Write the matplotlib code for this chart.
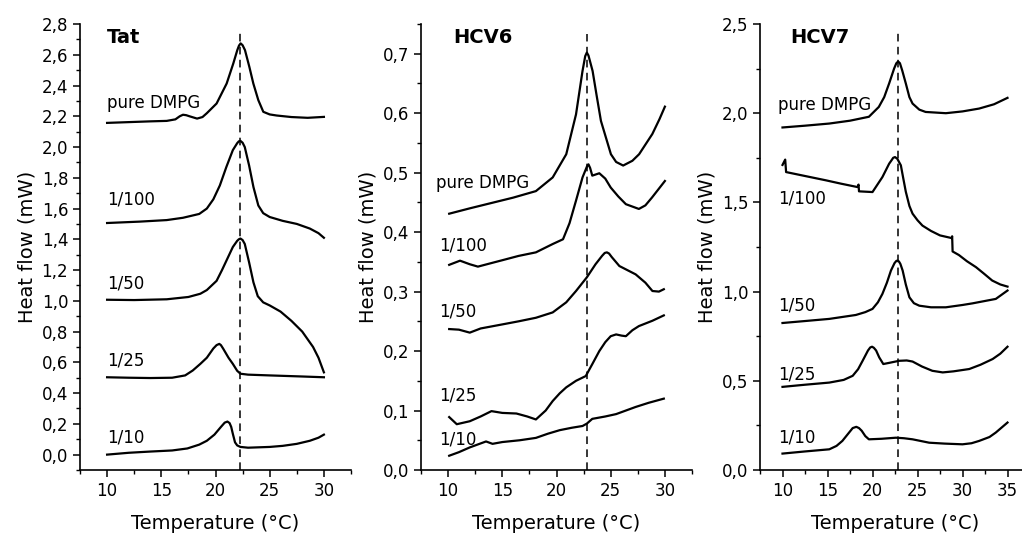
import numpy as np
import matplotlib
matplotlib.use("Agg")
import matplotlib.pyplot as plt
from matplotlib.ticker import MultipleLocator, FuncFormatter

plt.rcParams['font.family'] = ['DejaVu Sans']

# ---- Tat panel ----
tat_dmpg_x = [10, 12, 14, 15.5, 16.3, 16.7, 17.0, 17.3, 17.6, 18.3, 18.8, 19.2, 20.1, 21.03, 21.64, 22.01,
              22.17, 22.32, 22.5, 22.72, 23.12, 23.49, 23.95, 24.41, 25.0, 25.64, 27, 28.5, 30]
tat_dmpg_y = [2.157, 2.162, 2.167, 2.17, 2.18, 2.2, 2.21, 2.207, 2.2, 2.185, 2.195, 2.22, 2.283, 2.413,
              2.543, 2.63, 2.66, 2.674, 2.662, 2.63, 2.522, 2.413, 2.305, 2.229, 2.212, 2.205, 2.195,
              2.19, 2.196]
tat_100_x = [10, 13, 15.5, 17, 18.5, 19.2, 19.8, 20.4, 21.0, 21.6, 22.0, 22.15, 22.3, 22.5, 22.7, 23.1,
             23.5, 23.95, 24.4, 25, 26.2, 27.5, 28.7, 29.5, 30]
tat_100_y = [1.506, 1.515, 1.525, 1.54, 1.565, 1.6, 1.66, 1.75, 1.87, 1.98, 2.025, 2.037, 2.04, 2.028,
             2.0, 1.88, 1.74, 1.62, 1.57, 1.545, 1.52, 1.5, 1.47, 1.44, 1.41]
tat_50_x = [10, 12.5, 15.5, 17.5, 18.6, 19.2, 20.1, 20.6, 21.0, 21.6, 22.0, 22.15, 22.3, 22.5, 22.7, 23.1,
            23.5, 23.9, 24.4, 25, 26, 27, 28, 29, 29.5, 30]
tat_50_y = [1.007, 1.005, 1.01, 1.025, 1.046, 1.07, 1.13, 1.2, 1.26, 1.35, 1.39, 1.40, 1.405, 1.395, 1.37,
            1.25, 1.12, 1.03, 0.99, 0.97, 0.93, 0.87, 0.8, 0.7, 0.63, 0.535]
tat_25_x = [10, 12, 14, 16, 17.2, 17.9, 18.6, 19.2, 19.8, 20.1, 20.35, 20.5, 20.7, 21.2, 21.6, 22.0, 22.3,
            23, 25, 28, 30]
tat_25_y = [0.503, 0.5, 0.498, 0.5, 0.515, 0.547, 0.59, 0.63, 0.69, 0.712, 0.72, 0.712, 0.69, 0.63, 0.59,
            0.545, 0.526, 0.52, 0.515, 0.508, 0.503]
tat_10_x = [10, 12, 14, 16, 17.4, 18.5, 19.2, 19.9, 20.5, 20.85, 21.1, 21.3, 21.45, 21.6, 21.8, 22.0,
            22.3, 23, 25, 26.2, 27.5, 28.7, 29.5, 30]
tat_10_y = [0.0, 0.012, 0.02, 0.027, 0.04, 0.065, 0.09, 0.13, 0.18, 0.208, 0.215, 0.205, 0.18, 0.135,
            0.08, 0.06, 0.05, 0.045, 0.05, 0.057, 0.07, 0.09, 0.11, 0.13]

# ---- HCV6 panel ----
h6_dmpg_x = [10.1, 12, 14, 16, 18.1, 19.65, 20.9, 21.8, 22.4, 22.65, 22.8, 22.95, 23.33, 23.7, 24.1,
             25.02, 25.5, 26.15, 27.0, 27.62, 28.84, 29.5, 30]
h6_dmpg_y = [0.431, 0.44, 0.449, 0.458, 0.469, 0.492, 0.531, 0.598, 0.671, 0.696, 0.702, 0.697, 0.671,
             0.63, 0.587, 0.531, 0.518, 0.512, 0.52, 0.531, 0.565, 0.59, 0.611]
h6_100_x = [10.1, 11.1, 12.0, 12.75, 14, 15.05, 16.5, 18.1, 19.65, 20.6, 21.2, 21.8, 22.4, 22.8, 22.95,
            23.1, 23.3, 23.95, 24.5, 25.0, 25.7, 26.4, 27.6, 28.2, 28.8, 29.4, 30]
h6_100_y = [0.345, 0.352, 0.346, 0.342, 0.348, 0.353, 0.36, 0.366, 0.38, 0.388, 0.415, 0.453, 0.492,
            0.51, 0.514, 0.508, 0.495, 0.499, 0.49, 0.475, 0.46, 0.447, 0.439, 0.445, 0.458, 0.472, 0.486]
h6_50_x = [10.1, 11, 12.0, 13, 15.05, 16.5, 18.1, 19.65, 20.9, 21.8, 22.8, 23.6, 24.2, 24.45, 24.65,
           24.85, 25.1, 25.8, 27.3, 28.2, 28.85, 29.45, 29.9]
h6_50_y = [0.237, 0.236, 0.231, 0.238, 0.245, 0.25, 0.256, 0.265, 0.282, 0.301, 0.324, 0.346, 0.36,
           0.365, 0.366, 0.364, 0.358, 0.343, 0.329, 0.315, 0.301, 0.3, 0.304]
h6_25_x = [10.1, 10.8, 12.0, 13, 14.0, 15, 16.3, 17.3, 18.1, 19.0, 19.65, 20.3, 20.9, 21.8, 22.7, 23.3,
           23.95, 24.5, 25.0, 25.5, 26.0, 26.4, 27.0, 27.6, 28.85, 29.9]
h6_25_y = [0.089, 0.077, 0.082, 0.09, 0.099, 0.096, 0.095, 0.09, 0.085, 0.1, 0.116, 0.129, 0.139, 0.15,
           0.158, 0.178, 0.2, 0.215, 0.225, 0.228, 0.226, 0.225, 0.235, 0.242, 0.251, 0.26]
h6_10_x = [10.1, 11, 12.0, 13.5, 14.1, 15, 16.6, 18.1, 19.2, 20.3, 21.4, 22.4, 22.8, 23.3, 24.5, 25.5,
           26.4, 27.3, 28.5, 29.9]
h6_10_y = [0.024, 0.03, 0.038, 0.048, 0.044, 0.047, 0.05, 0.054, 0.061, 0.067, 0.071, 0.074, 0.078, 0.086,
           0.09, 0.094, 0.1, 0.106, 0.113, 0.12]

# ---- HCV7 panel ----
h7_dmpg_x = [10, 12.5, 15.2, 17.5, 19.6, 20.7, 21.3, 21.85, 22.4, 22.65, 22.85, 23.05, 23.3, 23.7, 24.1,
             24.45, 25.2, 25.9, 28.15, 30, 31.85, 33.5, 35]
h7_dmpg_y = [1.92, 1.93, 1.942, 1.958, 1.98, 2.035, 2.09, 2.167, 2.25, 2.28, 2.29, 2.28, 2.24, 2.167,
             2.09, 2.054, 2.02, 2.007, 2.0, 2.01, 2.026, 2.05, 2.086]
h7_100_x = [10, 10.3, 10.4, 12.5, 14.8, 16.5, 18.33, 18.45, 18.5, 20.0, 21.1, 21.85, 22.1, 22.3, 22.5,
            22.75, 23.15, 23.4, 23.7, 24.1, 24.45, 25.0, 25.55, 26.5, 27.5, 28.8, 28.85, 28.9, 29.6, 30.5,
            31.5, 32.4, 33.3, 34.2, 35]
h7_100_y = [1.71, 1.74, 1.67, 1.648, 1.624, 1.605, 1.586, 1.6, 1.562, 1.558, 1.642, 1.717, 1.735, 1.75,
            1.754, 1.745, 1.708, 1.64, 1.56, 1.48, 1.437, 1.4, 1.37, 1.34, 1.315, 1.30, 1.31, 1.225,
            1.205, 1.17, 1.137, 1.1, 1.062, 1.04, 1.028]
h7_50_x = [10, 12.5, 15.2, 18.15, 19.2, 20, 20.6, 21.1, 21.6, 22.05, 22.45, 22.65, 22.8, 22.95, 23.1,
           23.35, 23.7, 24.1, 24.6, 25.2, 26.5, 28.15, 30, 31.1, 33.7, 35]
h7_50_y = [0.824, 0.835, 0.847, 0.869, 0.885, 0.903, 0.94, 0.987, 1.05, 1.118, 1.16, 1.172, 1.174, 1.168,
           1.155, 1.118, 1.04, 0.968, 0.935, 0.921, 0.912, 0.912, 0.925, 0.934, 0.959, 1.006]
h7_25_x = [10, 12.5, 15.2, 16.8, 17.8, 18.4, 18.9, 19.5, 19.75, 19.95, 20.15, 20.4, 20.75, 21.2, 21.8,
           22.95, 23.8, 24.45, 25.5, 26.65, 27.8, 29, 30.75, 32, 33.35, 34.2, 35]
h7_25_y = [0.466, 0.478, 0.49, 0.505, 0.528, 0.565, 0.612, 0.67, 0.687, 0.691, 0.685, 0.67, 0.631, 0.594,
           0.6, 0.612, 0.614, 0.608, 0.58, 0.556, 0.547, 0.553, 0.566, 0.59, 0.622, 0.652, 0.691]
h7_10_x = [10, 12.5, 15.2, 16, 16.65, 17.4, 17.8, 18.2, 18.5, 18.8, 19.2, 19.6, 21, 22.6, 23.5, 24.45,
           26.3, 28, 30, 31, 31.85, 33, 33.7, 35]
h7_10_y = [0.092, 0.104, 0.116, 0.135, 0.163, 0.21, 0.235, 0.242, 0.235, 0.22, 0.19, 0.172, 0.175, 0.181,
           0.178, 0.172, 0.153, 0.148, 0.144, 0.15, 0.163, 0.185, 0.21, 0.266]

labels = ['pure DMPG', '1/100', '1/50', '1/25', '1/10']

panels = [
    dict(title='Tat', title_x=10.0,
         curves=[(tat_dmpg_x, tat_dmpg_y), (tat_100_x, tat_100_y), (tat_50_x, tat_50_y),
                 (tat_25_x, tat_25_y), (tat_10_x, tat_10_y)],
         label_x=[10.0] * 5, label_y=[2.285, 1.66, 1.11, 0.61, 0.11],
         dash_x=22.3, dash_top=2.74,
         xlim=(7.5, 32.5), ylim=(-0.1, 2.8), ymajor=0.2, yminor=0.1,
         left=80),
    dict(title='HCV6', title_x=10.45,
         curves=[(h6_dmpg_x, h6_dmpg_y), (h6_100_x, h6_100_y), (h6_50_x, h6_50_y),
                 (h6_25_x, h6_25_y), (h6_10_x, h6_10_y)],
         label_x=[8.9, 9.2, 9.2, 9.2, 9.2], label_y=[0.483, 0.377, 0.266, 0.125, 0.052],
         dash_x=22.8, dash_top=0.734,
         xlim=(7.5, 32.5), ylim=(0, 0.75), ymajor=0.1, yminor=0.05,
         left=421),
    dict(title='HCV7', title_x=10.9,
         curves=[(h7_dmpg_x, h7_dmpg_y), (h7_100_x, h7_100_y), (h7_50_x, h7_50_y),
                 (h7_25_x, h7_25_y), (h7_10_x, h7_10_y)],
         label_x=[9.45, 9.55, 9.55, 9.55, 9.55], label_y=[2.045, 1.52, 0.921, 0.538, 0.181],
         dash_x=22.85, dash_top=2.45,
         xlim=(7.5, 37.5), ylim=(0, 2.5), ymajor=0.5, yminor=0.25,
         left=760),
]

W, H = 1022, 540
fig = plt.figure(figsize=(W / 100, H / 100), dpi=100)

comma = FuncFormatter(lambda v, p: ('%.1f' % v).replace('.', ','))

for i, p in enumerate(panels):
    width_px = 271 if i < 2 else 270
    ax = fig.add_axes([p['left'] / W, (H - 470) / H, width_px / W, 446 / H])
    for (xs, ys) in p['curves']:
        ax.plot(xs, ys, color='black', lw=1.6, solid_joinstyle='round')
    for lab, lx, ly in zip(labels, p['label_x'], p['label_y']):
        ax.text(lx, ly, lab, fontsize=12, ha='left', va='center')
    ax.plot([p['dash_x'], p['dash_x']], [p['ylim'][0], p['dash_top']], color='black',
            lw=1.1, ls=(0, (5, 3.5)))
    ax.text(p['title_x'], 0.957, p['title'], transform=ax.get_xaxis_transform(),
            fontsize=14, fontweight='bold', ha='left', va='baseline')
    ax.set_xlim(*p['xlim'])
    ax.set_ylim(*p['ylim'])
    ax.xaxis.set_major_locator(MultipleLocator(5))
    ax.xaxis.set_minor_locator(MultipleLocator(2.5))
    ax.yaxis.set_major_locator(MultipleLocator(p['ymajor']))
    ax.yaxis.set_minor_locator(MultipleLocator(p['yminor']))
    ax.yaxis.set_major_formatter(comma)
    for s in ['top', 'right']:
        ax.spines[s].set_visible(False)
    for s in ['left', 'bottom']:
        ax.spines[s].set_linewidth(1.2)
    ax.tick_params(which='major', direction='out', length=5, width=1.1, labelsize=12)
    ax.tick_params(which='minor', direction='out', length=3, width=1.0)
    ax.set_xlabel('Temperature (°C)', fontsize=14, labelpad=10)
    ax.set_ylabel('Heat flow (mW)', fontsize=14, labelpad=4)

fig.savefig('out.png', dpi=100)
